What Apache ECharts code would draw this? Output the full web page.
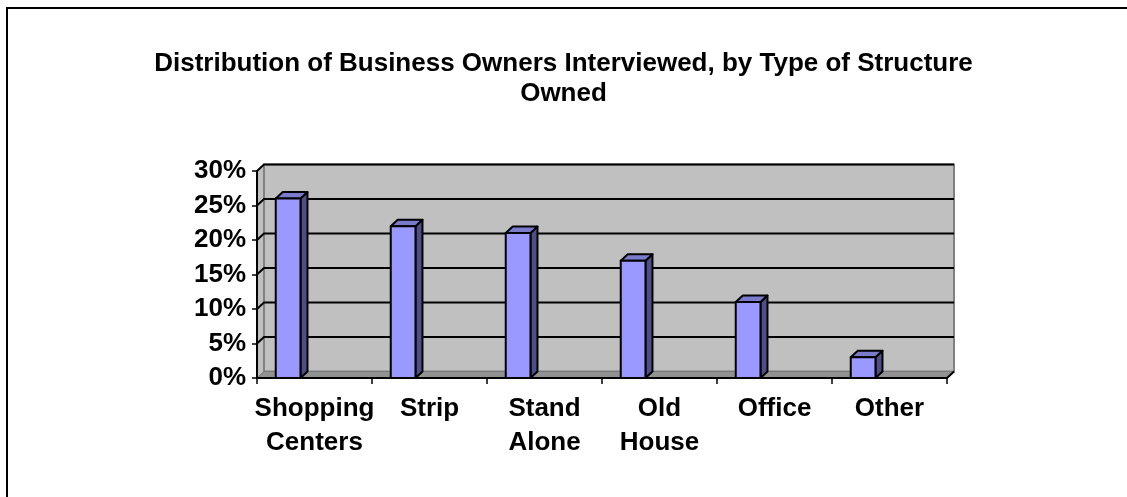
<!DOCTYPE html>
<html>
<head>
<meta charset="utf-8">
<title>Distribution of Business Owners Interviewed</title>
<script src="https://cdn.jsdelivr.net/npm/echarts@6/dist/echarts.min.js"></script>
<style>
  html, body { margin: 0; padding: 0; background: #fff; }
  #chart { width: 1127px; height: 497px; }
</style>
</head>
<body>
<div id="chart"></div>
<script>
// Categories of structure owned, and the share of owners for each (percent)
const categories = ['Shopping\nCenters', 'Strip', 'Stand\nAlone', 'Old\nHouse', 'Office', 'Other'];
const shares = [26, 22, 21, 17, 11, 3];
// Value-axis ticks (percent)
const yTicks = [0, 5, 10, 15, 20, 25, 30];

// Pseudo-3D depth offset of the back plane
const DX = 7, DY = -6.5;
const FONT = 'Arial, "Liberation Sans", sans-serif';

const chart = echarts.init(document.getElementById('chart'), null, { renderer: 'canvas' });

// Walls, floor and gridlines drawn on the back wall
function renderWalls(params, api) {
  const cs = params.coordSys;
  const x0 = cs.x, y0 = cs.y, w = cs.width, h = cs.height;
  const children = [];
  // side wall
  children.push({
    type: 'polygon',
    shape: { points: [[x0, y0], [x0 + DX, y0 + DY], [x0 + DX, y0 + h + DY], [x0, y0 + h]] },
    style: { fill: '#c0c0c0', stroke: '#808080', lineWidth: 1 }
  });
  // back wall
  children.push({
    type: 'rect',
    shape: { x: x0 + DX, y: y0 + DY, width: w, height: h },
    style: { fill: '#c0c0c0', stroke: '#808080', lineWidth: 2 }
  });
  // floor
  children.push({
    type: 'polygon',
    shape: { points: [[x0, y0 + h], [x0 + DX, y0 + h + DY], [x0 + w + DX, y0 + h + DY], [x0 + w, y0 + h]] },
    style: { fill: '#929292', stroke: '#7a7a7a', lineWidth: 1 }
  });
  // floor right edge
  children.push({
    type: 'line',
    shape: { x1: x0 + w, y1: y0 + h, x2: x0 + w + DX, y2: y0 + h + DY },
    style: { stroke: '#000', lineWidth: 2 }
  });
  // gridlines
  yTicks.forEach(function (t) {
    if (t === 0) return;
    const y = api.coord([0, t])[1];
    children.push({
      type: 'polyline',
      shape: { points: [[x0, y], [x0 + DX, y + DY], [x0 + w + DX, y + DY]] },
      style: { stroke: '#000', lineWidth: 2, fill: null }
    });
  });
  return { type: 'group', children: children };
}

// One 3D column per category
function renderBar(params, api) {
  const i = api.value(0);
  const v = api.value(1);
  const base = api.coord([i, 0]);
  const top = api.coord([i, v]);
  const band = api.size([1, 0])[0];
  const x0 = base[0] - band / 2 + band * 0.163;
  const w = band * 0.215;
  const yT = top[1], yB = base[1];
  const edge = { stroke: '#000', lineWidth: 2, lineJoin: 'round' };
  return {
    type: 'group',
    children: [
      {
        type: 'polygon',
        shape: { points: [[x0 + w, yT], [x0 + w + DX, yT + DY], [x0 + w + DX, yB + DY], [x0 + w, yB]] },
        style: Object.assign({ fill: '#4f4f88' }, edge)
      },
      {
        type: 'polygon',
        shape: { points: [[x0, yT], [x0 + DX, yT + DY], [x0 + w + DX, yT + DY], [x0 + w, yT]] },
        style: Object.assign({ fill: '#7b7bcc' }, edge)
      },
      {
        type: 'rect',
        shape: { x: x0, y: yT, width: w, height: yB - yT },
        style: Object.assign({ fill: '#9999ff' }, edge)
      }
    ]
  };
}

const option = {
  animation: false,
  backgroundColor: '#fff',
  title: {
    text: 'Distribution of Business Owners Interviewed, by Type of Structure\nOwned',
    left: 'center',
    top: 44,
    textStyle: { fontFamily: FONT, fontWeight: 'bold', fontSize: 26, lineHeight: 30, color: '#000' }
  },
  graphic: [{
    type: 'rect',
    shape: { x: 7, y: 8, width: 1200, height: 600 },
    style: { fill: null, stroke: '#000', lineWidth: 2 },
    silent: true
  }],
  grid: { left: 257, right: 180, top: 171, bottom: 119, containLabel: false },
  xAxis: {
    type: 'category',
    data: categories,
    z: 5,
    axisLine: { show: true, lineStyle: { color: '#000', width: 2 } },
    axisTick: { show: true, length: 6, lineStyle: { color: '#000', width: 1.5 } },
    axisLabel: {
      interval: 0, margin: 14, color: '#000',
      fontFamily: FONT, fontWeight: 'bold', fontSize: 26, lineHeight: 34
    },
    splitLine: { show: false }
  },
  yAxis: {
    type: 'value',
    min: 0, max: 30, interval: 5,
    z: 5,
    axisLine: { show: true, lineStyle: { color: '#000', width: 2 } },
    axisTick: { show: true, length: 5, lineStyle: { color: '#000', width: 1.5 } },
    axisLabel: {
      margin: 11, color: '#000',
      fontFamily: FONT, fontWeight: 'bold', fontSize: 26,
      formatter: '{value}%'
    },
    splitLine: { show: false }
  },
  series: [
    {
      type: 'custom',
      z: 1,
      silent: true,
      renderItem: renderWalls,
      data: [[0, 0]],
      encode: { x: 0, y: 1 }
    },
    {
      type: 'custom',
      z: 3,
      renderItem: renderBar,
      data: shares.map(function (v, i) { return [i, v]; }),
      encode: { x: 0, y: 1 }
    }
  ]
};

chart.setOption(option);
</script>
</body>
</html>
